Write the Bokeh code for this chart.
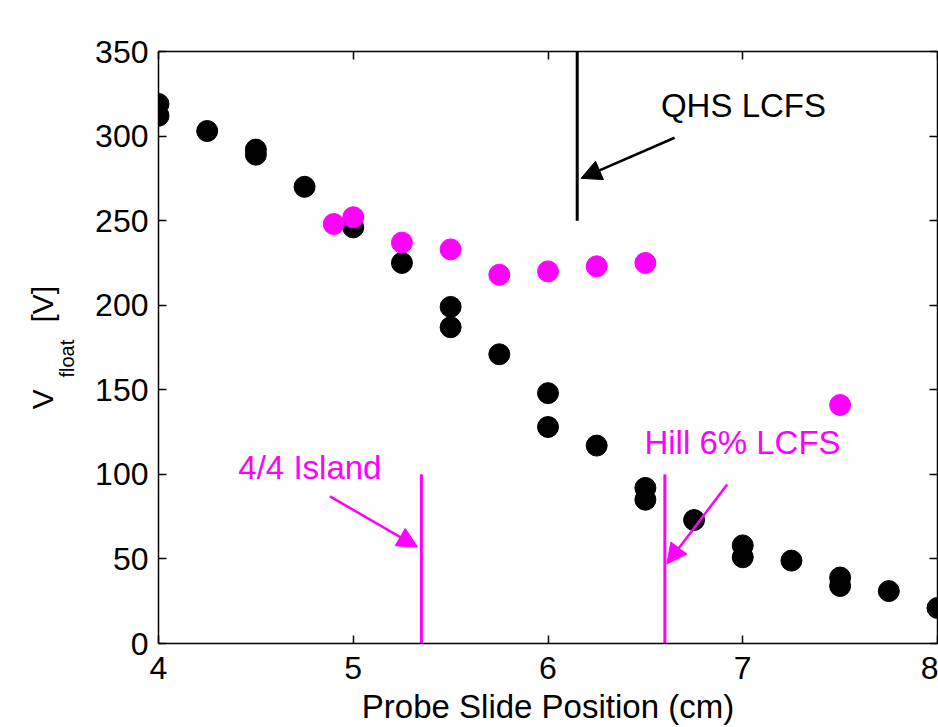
from bokeh.plotting import figure
from bokeh.models import (Range1d, LinearAxis, FixedTicker, Label, Arrow,
                          NormalHead, ColumnDataSource)
from bokeh.embed import file_html
from bokeh.resources import INLINE

# ---------------- data ----------------
black_x = [4.0, 4.0, 4.25, 4.5, 4.5, 4.75, 5.0, 5.25, 5.5, 5.5, 5.75, 6.0, 6.0,
           6.25, 6.5, 6.5, 6.75, 7.0, 7.0, 7.25, 7.5, 7.5, 7.75, 8.0]
black_y = [319, 312, 303, 292, 289, 270, 246, 225, 199, 187, 171, 148, 128,
           117, 92, 85, 73, 58, 51, 49, 39, 34, 31, 21]

mag_x = [4.9, 5.0, 5.25, 5.5, 5.75, 6.0, 6.25, 6.5, 7.5]
mag_y = [248, 252, 237, 233, 218, 220, 223, 225, 141]

# vertical marker lines: (x, y_bottom, y_top)
vline_x = [6.15, 5.35, 6.6]
vline_y0 = [250, 0, 0]
vline_y1 = [350, 100, 100]
vline_color = ["black", "#ff00ff", "#ff00ff"]

# annotation texts and arrows
ann_text = ["QHS LCFS", "4/4 Island", "Hill 6% LCFS"]
ann_x = [6.58, 4.41, 6.495]
ann_y = [318, 104, 119]
ann_color = ["black", "#ff00ff", "#ff00ff"]

arrow_x0 = [6.65, 4.88, 6.92]
arrow_y0 = [299, 87, 94]
arrow_x1 = [6.17, 5.33, 6.61]
arrow_y1 = [275, 57, 47]

x_ticks = [4, 5, 6, 7, 8]
y_ticks = [0, 50, 100, 150, 200, 250, 300, 350]

x_label = "Probe Slide Position (cm)"
y_label_main = "V" + "\u00a0" * 8 + "[V]"
y_label_sub = "float" + "\u00a0" * 4

FONT = "Liberation Sans"
MAG = "#ff00ff"

# ---------------- figure ----------------
p = figure(width=938, height=727, output_backend="svg", toolbar_location=None,
           x_range=Range1d(4, 8), y_range=Range1d(0, 350),
           min_border_left=158, min_border_right=1, min_border_top=51,
           min_border_bottom=84, background_fill_color="white",
           border_fill_color="white")
p.grid.visible = False
p.outline_line_color = None

for ax in (p.xaxis[0], p.yaxis[0]):
    ax.axis_line_color = "black"
    ax.axis_line_width = 1.5
    ax.major_tick_in = 8
    ax.major_tick_out = 0
    ax.major_tick_line_width = 1.5
    ax.minor_tick_line_color = None
    ax.major_label_text_font = FONT
    ax.major_label_text_font_size = "32px"
    ax.major_label_text_color = "black"

p.xaxis[0].ticker = FixedTicker(ticks=x_ticks)
p.yaxis[0].ticker = FixedTicker(ticks=y_ticks)
p.xaxis[0].major_label_standoff = 13
p.yaxis[0].major_label_standoff = 10
p.xaxis[0].axis_label = x_label
p.xaxis[0].axis_label_text_font = FONT
p.xaxis[0].axis_label_text_font_size = "33px"
p.xaxis[0].axis_label_text_font_style = "normal"
p.xaxis[0].axis_label_text_color = "black"
p.xaxis[0].axis_label_standoff = 6

# frame: top and right axes with inward ticks, no labels
top = LinearAxis(ticker=FixedTicker(ticks=x_ticks))
right = LinearAxis(ticker=FixedTicker(ticks=y_ticks))
for ax in (top, right):
    ax.axis_line_color = "black"
    ax.axis_line_width = 1.5
    ax.major_tick_in = 8
    ax.major_tick_out = 0
    ax.major_tick_line_width = 1.5
    ax.minor_tick_line_color = None
    ax.major_label_text_font_size = "1px"
    ax.major_label_text_color = None
    ax.major_label_standoff = 0
p.add_layout(top, "above")
p.add_layout(right, "right")

# y label built from two label-only axes: subscript and main text
def label_axis(text, size, standoff):
    ax = LinearAxis(ticker=FixedTicker(ticks=[]))
    ax.axis_line_color = None
    ax.major_tick_line_color = None
    ax.minor_tick_line_color = None
    ax.major_tick_out = 0
    ax.major_tick_in = 0
    ax.major_label_text_font_size = "1px"
    ax.major_label_text_color = None
    ax.major_label_standoff = 0
    ax.axis_label = text
    ax.axis_label_text_font = FONT
    ax.axis_label_text_font_size = size
    ax.axis_label_text_font_style = "normal"
    ax.axis_label_text_color = "black"
    ax.axis_label_standoff = standoff
    return ax

p.add_layout(label_axis(y_label_sub, "20px", 15), "left")
p.add_layout(label_axis(y_label_main, "30px", -6), "left")

# vertical lines
vsrc = ColumnDataSource(dict(x=vline_x, y0=vline_y0, y1=vline_y1, c=vline_color))
p.segment(x0="x", y0="y0", x1="x", y1="y1", color="c", line_width=3, source=vsrc)

# data points
p.scatter(black_x, black_y, size=21, color="black")
p.scatter(mag_x, mag_y, size=21, color=MAG)

# annotations
for t, x, y, c in zip(ann_text, ann_x, ann_y, ann_color):
    p.add_layout(Label(x=x, y=y, text=t, text_color=c, text_font=FONT,
                       text_font_size="33px", text_baseline="alphabetic"))

for x0, y0, x1, y1, c in zip(arrow_x0, arrow_y0, arrow_x1, arrow_y1, ann_color):
    p.add_layout(Arrow(x_start=x0, y_start=y0, x_end=x1, y_end=y1,
                       line_color=c, line_width=2.5,
                       end=NormalHead(size=20, fill_color=c, line_color=c)))

open("out.html", "w").write(file_html(p, INLINE))
